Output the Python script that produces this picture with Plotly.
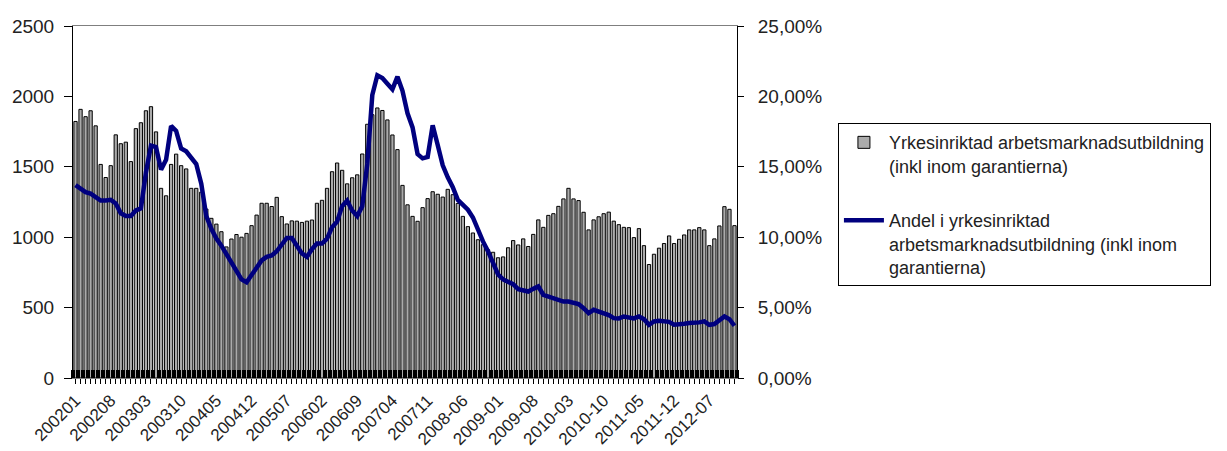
import plotly.graph_objects as go

# Categories: monthly, 2002-01 .. 2012-12 (format changes from 2008)
months = [f"{y}{m:02d}" if y < 2008 else f"{y}-{m:02d}"
          for y in range(2002, 2013) for m in range(1, 13)]

tick_labels = ["200201", "200208", "200303", "200310", "200405", "200412",
               "200507", "200602", "200609", "200704", "200711", "2008-06",
               "2009-01", "2009-08", "2010-03", "2010-10", "2011-05",
               "2011-12", "2012-07"]

# Yrkesinriktad arbetsmarknadsutbildning (inkl inom garantierna) - left axis
antal = [1822, 1908, 1856, 1898, 1791, 1517, 1424, 1508, 1727, 1664, 1675, 1537,
         1771, 1813, 1898, 1927, 1748, 1347, 1294, 1517, 1590, 1508, 1485, 1347,
         1347, 1320, 1200, 1134, 1093, 1039, 931, 987, 1019, 1000, 1027, 1082,
         1157, 1241, 1241, 1218, 1283, 1146, 1094, 1116, 1114, 1105, 1114, 1122,
         1241, 1262, 1347, 1465, 1527, 1475, 1379, 1422, 1443, 1591, 1802, 1870,
         1918, 1900, 1833, 1726, 1622, 1368, 1230, 1148, 1113, 1210, 1274, 1323,
         1305, 1285, 1340, 1302, 1240, 1148, 1075, 1030, 982, 947, 911, 893,
         854, 860, 925, 976, 945, 988, 934, 1020, 1123, 1070, 1155, 1167,
         1219, 1272, 1347, 1272, 1260, 1177, 1052, 1123, 1145, 1167, 1178, 1114,
         1089, 1070, 1068, 997, 1061, 940, 806, 879, 922, 955, 1009, 955,
         985, 1016, 1052, 1052, 1068, 1052, 940, 988, 1080, 1217, 1198, 1082]

# Andel i yrkesinriktad arbetsmarknadsutbildning (%) - right axis
andel = [13.7, 13.45, 13.2, 13.1, 12.85, 12.6, 12.6, 12.65, 12.4, 11.7, 11.5, 11.5,
         11.9, 12.05, 14.6, 16.5, 16.4, 14.8, 15.5, 17.9, 17.55, 16.3, 16.1, 15.65,
         15.2, 13.8, 11.5, 10.6, 9.9, 9.4, 8.8, 8.3, 7.7, 7.0, 6.8, 7.3,
         7.85, 8.35, 8.6, 8.7, 9.0, 9.45, 9.95, 9.95, 9.4, 8.85, 8.6, 9.15,
         9.55, 9.55, 9.9, 10.7, 11.1, 12.2, 12.6, 11.9, 11.5, 12.2, 15.2, 20.1,
         21.5, 21.3, 20.9, 20.5, 21.4, 20.4, 18.8, 17.8, 15.9, 15.6, 15.7, 17.95,
         16.55, 15.1, 14.25, 13.55, 12.65, 12.35, 11.95, 11.4, 10.5, 9.7, 9.0, 8.1,
         7.35, 7.0, 6.8, 6.66, 6.31, 6.21, 6.14, 6.33, 6.5, 5.91, 5.79, 5.67,
         5.5, 5.43, 5.43, 5.32, 5.25, 4.96, 4.61, 4.84, 4.73, 4.61, 4.47, 4.25,
         4.23, 4.37, 4.3, 4.23, 4.37, 4.18, 3.78, 4.02, 4.06, 4.02, 3.99, 3.78,
         3.78, 3.85, 3.9, 3.9, 3.95, 4.02, 3.78, 3.83, 4.09, 4.37, 4.18, 3.71]

left_ticks = [0, 500, 1000, 1500, 2000, 2500]
right_ticks = [0, 5, 10, 15, 20, 25]
right_labels = ["0,00%", "5,00%", "10,00%", "15,00%", "20,00%", "25,00%"]

pos = list(range(len(months)))
ticktext = [m if m in tick_labels else "" for m in months]

FONT = "Liberation Sans, Arial, sans-serif"
TXT = "#222222"

fig = go.Figure()
fig.add_trace(go.Bar(
    x=pos, y=antal, customdata=months,
    name="Yrkesinriktad arbetsmarknadsutbildning<br>(inkl inom garantierna)",
    marker=dict(color="#ababab", line=dict(color="black", width=1)),
    legendgroup="a", yaxis="y",
))
fig.add_trace(go.Scatter(
    x=pos, y=andel, customdata=months, mode="lines",
    name="Andel i yrkesinriktad<br>arbetsmarknadsutbildning (inkl inom<br>garantierna)",
    line=dict(color="#00007f", width=4.5),
    legendgroup="b", yaxis="y2",
))

fig.update_layout(
    width=1227, height=451,
    margin=dict(l=73, r=490, t=26, b=73, autoexpand=False),
    paper_bgcolor="white", plot_bgcolor="white",
    font=dict(family=FONT, size=18, color=TXT),
    bargap=0.35,
    showlegend=True,
    legend=dict(
        x=1.152, xanchor="left", y=0.724, yanchor="top",
        bordercolor="black", borderwidth=1, bgcolor="white",
        font=dict(family=FONT, size=18, color=TXT),
        traceorder="grouped", tracegroupgap=28, valign="top",
        itemwidth=40,
    ),
    xaxis=dict(
        range=[-0.5, len(months) - 0.5],
        tickmode="array", tickvals=pos, ticktext=ticktext,
        tickangle=-45, tickfont=dict(size=17, color=TXT),
        ticks="outside", ticklen=5, tickwidth=1, tickcolor="black",
        showline=True, linecolor="#7f7f7f", linewidth=1, mirror=True,
        showgrid=False, zeroline=False, automargin=False,
        minor=dict(ticks="inside", tickmode="linear", tick0=0.5, dtick=1,
                   ticklen=8, tickwidth=4, tickcolor="black", showgrid=False),
    ),
    yaxis=dict(
        range=[0, 2500], tickmode="array", tickvals=left_ticks,
        ticks="outside", ticklen=8, tickcolor="black",
        showline=True, linecolor="black", linewidth=1,
        showgrid=False, zeroline=False, automargin=False,
        tickfont=dict(size=19, color=TXT), ticklabelstandoff=6,
    ),
    yaxis2=dict(
        range=[0, 25], overlaying="y", side="right",
        tickmode="array", tickvals=right_ticks, ticktext=right_labels,
        ticks="outside", ticklen=6, tickcolor="black",
        showline=True, linecolor="black", linewidth=1,
        showgrid=False, zeroline=False, automargin=False,
        tickfont=dict(size=19, color=TXT), ticklabelstandoff=10,
    ),
)

fig.write_html("out.html", config={"displayModeBar": False},
               post_script="document.body.style.margin='0';")
